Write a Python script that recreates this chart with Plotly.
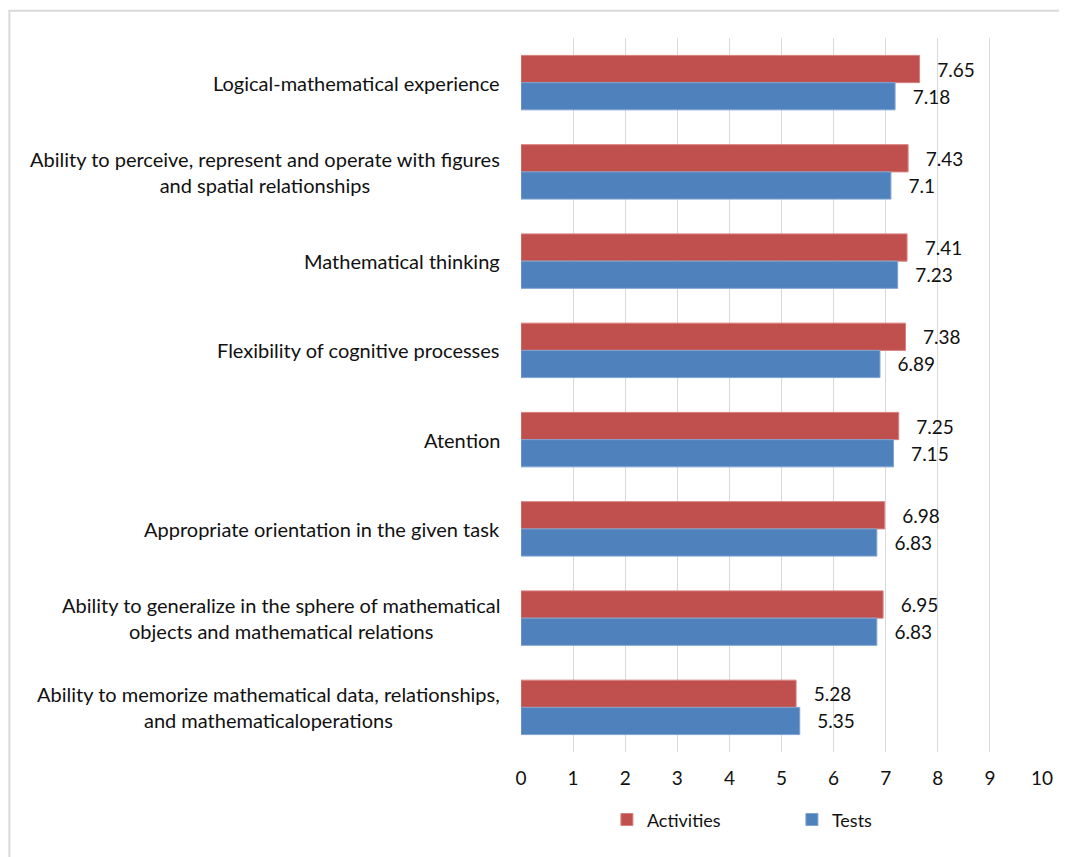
import plotly.graph_objects as go

categories = [
    "Logical-mathematical experience",
    "Ability to perceive, represent and operate with figures<br>and spatial relationships",
    "Mathematical thinking",
    "Flexibility of cognitive processes",
    "Atention",
    "Appropriate orientation in the given task",
    "Ability to generalize in the sphere of mathematical<br>objects and mathematical relations",
    "Ability to memorize mathematical data, relationships,<br>and mathematicaloperations",
]
activities = [7.65, 7.43, 7.41, 7.38, 7.25, 6.98, 6.95, 5.28]
tests = [7.18, 7.1, 7.23, 6.89, 7.15, 6.83, 6.83, 5.35]
x_ticks = list(range(0, 11))

FONT = "Lato, Open Sans, Liberation Sans, sans-serif"
PAD = "\u00a0\u00a0\u00a0"

fig = go.Figure()
fig.add_trace(go.Bar(
    y=categories, x=activities, name="Activities", orientation="h",
    marker=dict(color="#C0504D", line=dict(color="#D9807E", width=1)),
    text=[PAD + f"{v:g}" for v in activities], textposition="outside",
    textfont=dict(size=19, color="#111111", family=FONT), cliponaxis=False,
))
fig.add_trace(go.Bar(
    y=categories, x=tests, name="Tests", orientation="h",
    marker=dict(color="#4F81BD", line=dict(color="#7FA3D0", width=1)),
    text=[PAD + f"{v:g}" for v in tests], textposition="outside",
    textfont=dict(size=19, color="#111111", family=FONT), cliponaxis=False,
))

for c in categories:
    fig.add_annotation(
        x=0, xref="paper", y=c, yref="y", text=c, showarrow=False,
        xanchor="right", align="center", xshift=-19,
        font=dict(size=20, color="#111111", family=FONT),
    )

fig.add_shape(type="rect", xref="paper", yref="paper",
              x0=-0.982, x1=1.1, y0=-0.2, y1=1.038,
              line=dict(color="#D9D9D9", width=2), layer="below")

fig.update_layout(
    width=1067, height=857,
    margin=dict(l=513, r=33, t=30, b=113),
    paper_bgcolor="white", plot_bgcolor="white",
    barmode="group", bargap=0.39, bargroupgap=0,
    font=dict(family=FONT, size=18, color="#111111"),
    showlegend=True,
    legend=dict(orientation="h", x=0.52, xanchor="center", y=-0.095, yanchor="middle",
                font=dict(size=18), itemwidth=30, tracegroupgap=0,
                entrywidth=140),
    xaxis=dict(range=[0, 10], tickvals=x_ticks, showgrid=True, gridcolor="#D9D9D9",
               gridwidth=1, zeroline=False, showline=False, ticks="",
               tickfont=dict(size=19), ticklen=0, ticklabelstandoff=13,
               fixedrange=True),
    yaxis=dict(autorange="reversed", showticklabels=False, showgrid=False,
               zeroline=False, showline=False, ticks=""),
)

fig.write_html("out.html")
